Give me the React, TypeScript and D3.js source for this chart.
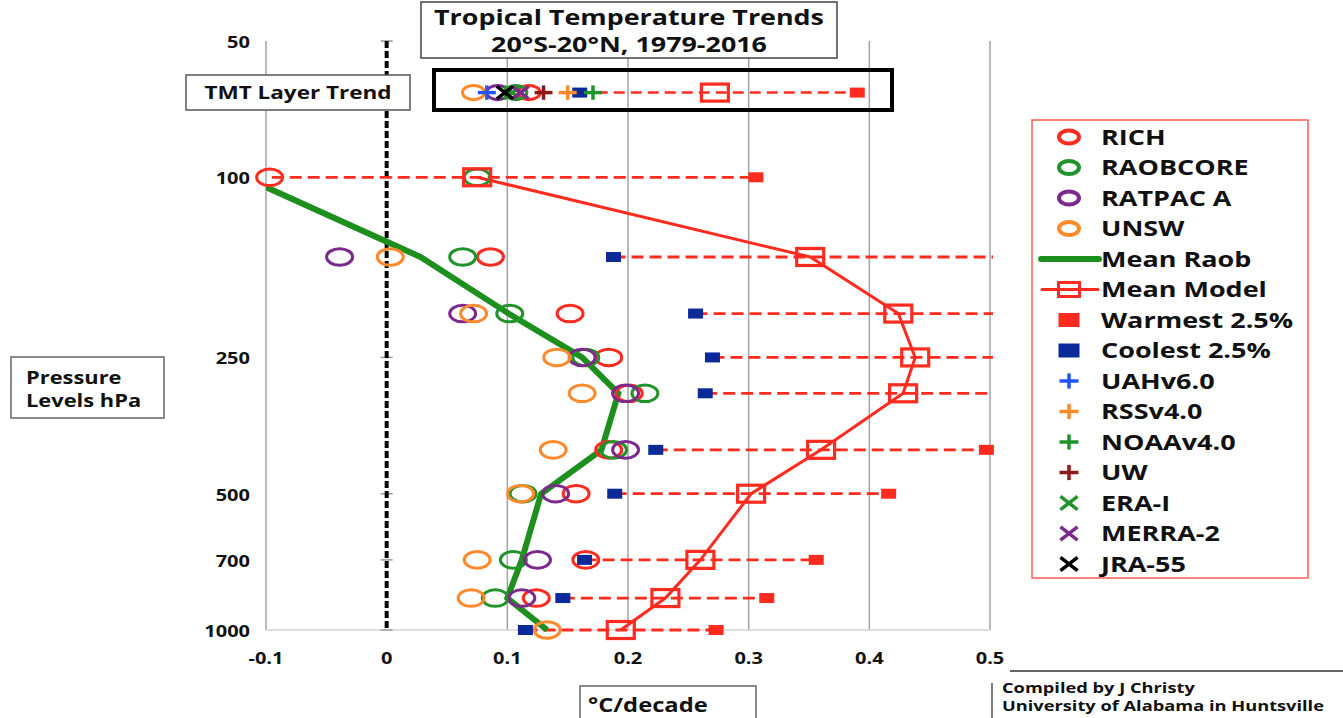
import React from 'react';
import * as d3 from 'd3';

// pressure levels (hPa) and trends (°C/decade)
const levels = [100, 150, 200, 250, 300, 400, 500, 700, 850, 1000];
const rich = [-0.097, 0.086, 0.152, 0.184, 0.201, 0.184, 0.157, 0.165, 0.124, null];
const raobcore = [0.075, 0.063, 0.102, 0.165, 0.214, 0.188, 0.113, 0.105, 0.09, null];
const ratpacA = [null, -0.039, 0.063, 0.162, 0.198, 0.198, 0.14, 0.125, 0.112, null];
const unsw = [null, 0.003, 0.072, 0.141, 0.162, 0.138, 0.111, 0.075, 0.07, 0.133];
const meanRaob = [-0.118, 0.028, 0.101, 0.162, 0.192, 0.178, 0.128, 0.112, 0.1, 0.133];
const meanModel = [0.075, 0.351, 0.424, 0.438, 0.428, 0.36, 0.302, 0.26, 0.231, 0.194];
const warmest = [0.306, 0.56, 0.58, 0.57, 0.55, 0.497, 0.416, 0.356, 0.315, 0.273];
const coolest = [-0.14, 0.188, 0.256, 0.27, 0.264, 0.223, 0.189, 0.164, 0.146, 0.115];

// TMT layer row
const tmtNames = ['RICH', 'RAOBCORE', 'RATPAC A', 'UNSW', 'UAHv6.0', 'RSSv4.0', 'NOAAv4.0', 'UW', 'ERA-I', 'MERRA-2', 'JRA-55'];
const tmtTrends = [0.118, 0.107, 0.092, 0.072, 0.083, 0.15, 0.171, 0.13, 0.104, 0.111, 0.098];
const tmtCoolest = 0.16;
const tmtMeanModel = 0.272;
const tmtWarmest = 0.39;
const tmtRowPressure = 65;

const xTicks = [-0.1, 0, 0.1, 0.2, 0.3, 0.4, 0.5];
const yTicks = [50, 100, 250, 500, 700, 1000];

const legendNames = ['RICH', 'RAOBCORE', 'RATPAC A', 'UNSW', 'Mean Raob', 'Mean Model', 'Warmest 2.5%', 'Coolest 2.5%', 'UAHv6.0', 'RSSv4.0', 'NOAAv4.0', 'UW', 'ERA-I', 'MERRA-2', 'JRA-55'];

const RED = '#ff2b1f';
const GREEN = '#22922a';
const LINEGREEN = '#1d8f1d';
const PURPLE = '#7b2a8c';
const ORANGE = '#ff8a2c';
const NAVY = '#0b2a9a';
const BLUE = '#2255ff';
const DARKRED = '#8b1a1a';
const FONT = "'Open Sans', 'Noto Sans', sans-serif";
const SX = 1.25;

const symbols: Record<string, [string, string]> = {
  'RICH': ['circle', RED],
  'RAOBCORE': ['circle', GREEN],
  'RATPAC A': ['circle', PURPLE],
  'UNSW': ['circle', ORANGE],
  'Mean Raob': ['line', LINEGREEN],
  'Mean Model': ['lineSquare', RED],
  'Warmest 2.5%': ['fill', RED],
  'Coolest 2.5%': ['fill', NAVY],
  'UAHv6.0': ['plus', BLUE],
  'RSSv4.0': ['plus', ORANGE],
  'NOAAv4.0': ['plus', GREEN],
  'UW': ['plus', DARKRED],
  'ERA-I': ['cross', GREEN],
  'MERRA-2': ['cross', PURPLE],
  'JRA-55': ['cross', '#000'],
};

const Label = ({ x, y, size, anchor = 'start', children }: any) => (
  <text transform={`translate(${x},${y}) scale(${SX},1)`} fontSize={size} fontWeight={700}
    fontFamily={FONT} textAnchor={anchor} fill="#111">{children}</text>
);

const Marker = ({ type, color, x, y, k = 1 }: any) => {
  if (type === 'circle') return <ellipse cx={x} cy={y} rx={13 * k} ry={8.3 * k} fill="none" stroke={color} strokeWidth={3} />;
  if (type === 'square') return <rect x={x - 13.5} y={y - 8.5} width={27} height={17} fill="none" stroke={color} strokeWidth={3.2} />;
  if (type === 'fill') return <rect x={x - 7.5} y={y - 5} width={15} height={10} fill={color} />;
  if (type === 'plus') return (
    <g stroke={color} strokeWidth={3.5}>
      <line x1={x - 10 * k} x2={x + 10 * k} y1={y} y2={y} />
      <line x1={x} x2={x} y1={y - 8 * k} y2={y + 8 * k} />
    </g>
  );
  if (type === 'cross') return (
    <g stroke={color} strokeWidth={3.5}>
      <line x1={x - 9 * k} x2={x + 9 * k} y1={y - 7 * k} y2={y + 7 * k} />
      <line x1={x - 9 * k} x2={x + 9 * k} y1={y + 7 * k} y2={y - 7 * k} />
    </g>
  );
  return null;
};

export default function App() {
  const x = d3.scaleLinear().domain([-0.1, 0.5]).range([266, 990]);
  const y = d3.scaleLog().domain([50, 1000]).range([41, 630]);
  const [x0, x1] = x.range();
  const [yTop, yBot] = y.range();
  const visible = (v: number | null) => v != null && v >= -0.11 && v <= 0.505;

  const line = d3.line<[number, number]>().x(d => x(d[0])).y(d => y(d[1]));
  const raobPath = line(levels.map((p, i) => [meanRaob[i], p]));
  const modelPath = line(levels.map((p, i) => [meanModel[i], p]));

  const circleSeries: [any[], string][] = [
    [rich, RED], [raobcore, GREEN], [ratpacA, PURPLE], [unsw, ORANGE],
  ];

  const tmtY = y(tmtRowPressure);
  const tmtOrder = [0, 1, 2, 3];
  const tmtAfter = [4, 5, 6, 7, 8, 9, 10];

  const legX = 1032, legY = 120, legW = 276, legH = 458;
  const legStep = 30.5, legFirst = 137, symX = 1069, txtX = 1101;

  return (
    <svg width={1343} height={718} style={{ position: 'absolute', left: 0, top: 0, background: '#fff' }}>
      <defs>
        <clipPath id="plot"><rect x={x0} y={0} width={x1 - x0 + 3} height={yBot + 5} /></clipPath>
      </defs>

      {/* grid */}
      {xTicks.filter(t => t !== 0).map(t => (
        <line key={t} x1={x(t)} x2={x(t)} y1={yTop} y2={yBot} stroke="#a3a3a3" strokeWidth={1.5} />
      ))}
      <line x1={x0} x2={x1} y1={yBot} y2={yBot} stroke="#d4d4d4" strokeWidth={1.5} />

      {/* zero axis */}
      {yTicks.map(t => (
        <line key={t} x1={x(0) - 6} x2={x(0) + 6} y1={y(t)} y2={y(t)} stroke="#999" strokeWidth={1.5} />
      ))}
      <line x1={x(0)} x2={x(0)} y1={yTop} y2={yBot} stroke="#000" strokeWidth={4} strokeDasharray="7,3" />

      {/* tick labels */}
      {yTicks.map(t => <Label key={t} x={250} y={y(t) + 7} size={16} anchor="end">{t}</Label>)}
      {xTicks.map(t => <Label key={t} x={x(t)} y={664} size={16} anchor="middle">{t === 0 ? '0' : t.toFixed(1)}</Label>)}

      {/* title box */}
      <rect x={421} y={2} width={416} height={56} fill="#fff" stroke="#444" strokeWidth={1.5} />
      <Label x={629} y={25} size={21.5} anchor="middle">Tropical Temperature Trends</Label>
      <Label x={629} y={51.5} size={21.5} anchor="middle">20°S-20°N, 1979-2016</Label>

      {/* TMT row */}
      <rect x={186} y={75} width={224} height={35} fill="#fff" stroke="#555" strokeWidth={1.5} />
      <Label x={298} y={99} size={18} anchor="middle">TMT Layer Trend</Label>
      <rect x={434} y={70} width={458} height={40} fill="none" stroke="#000" strokeWidth={4} />
      <line x1={x(tmtCoolest)} x2={x(tmtWarmest)} y1={tmtY} y2={tmtY} stroke={RED} strokeWidth={2.5} strokeDasharray="11,6" />
      {tmtOrder.map(i => <Marker key={tmtNames[i]} type="circle" color={symbols[tmtNames[i]][1]} x={x(tmtTrends[i])} y={tmtY} k={0.85} />)}
      <Marker type="square" color={RED} x={x(tmtMeanModel)} y={tmtY} />
      <Marker type="fill" color={RED} x={x(tmtWarmest)} y={tmtY} />
      <Marker type="fill" color={NAVY} x={x(tmtCoolest)} y={tmtY} />
      {tmtAfter.map(i => <Marker key={tmtNames[i]} type={symbols[tmtNames[i]][0]} color={symbols[tmtNames[i]][1]} x={x(tmtTrends[i])} y={tmtY} k={0.9} />)}

      {/* profiles */}
      <g clipPath="url(#plot)">
        {levels.map((p, i) => (
          <line key={p} x1={x(coolest[i])} x2={x(warmest[i])} y1={y(p)} y2={y(p)} stroke={RED} strokeWidth={2.8} strokeDasharray="12,6" />
        ))}
        <path d={modelPath || ''} fill="none" stroke={RED} strokeWidth={3} />
        <path d={raobPath || ''} fill="none" stroke={LINEGREEN} strokeWidth={6} />
      </g>
      {circleSeries.map(([vals, color], s) => (
        <g key={s}>
          {vals.map((v, i) => visible(v) ? <Marker key={i} type="circle" color={color} x={x(v)} y={y(levels[i])} /> : null)}
        </g>
      ))}
      {levels.map((p, i) => <Marker key={'m' + p} type="square" color={RED} x={x(meanModel[i])} y={y(p)} />)}
      {levels.map((p, i) => visible(warmest[i]) ? <Marker key={'w' + p} type="fill" color={RED} x={x(warmest[i])} y={y(p)} /> : null)}
      {levels.map((p, i) => visible(coolest[i]) ? <Marker key={'c' + p} type="fill" color={NAVY} x={x(coolest[i])} y={y(p)} /> : null)}

      {/* legend */}
      <rect x={legX} y={legY} width={legW} height={legH} fill="#fff" stroke="#ff5a50" strokeWidth={1.5} />
      {legendNames.map((name, i) => {
        const cy = legFirst + i * legStep;
        const [type, color] = symbols[name];
        let sym: any = null;
        if (type === 'circle') sym = <ellipse cx={symX} cy={cy} rx={10} ry={6.5} fill="none" stroke={color} strokeWidth={4} />;
        else if (type === 'line') sym = <line x1={1041} x2={1099} y1={cy} y2={cy} stroke={color} strokeWidth={6} strokeLinecap="round" />;
        else if (type === 'lineSquare') sym = (
          <g>
            <line x1={1042} x2={1098} y1={cy} y2={cy} stroke={color} strokeWidth={3} strokeLinecap="round" />
            <rect x={symX - 10.5} y={cy - 7} width={21} height={14} fill="none" stroke={color} strokeWidth={3} />
          </g>
        );
        else if (type === 'fill') sym = <rect x={symX - 10.5} y={cy - 7} width={21} height={14} fill={color} />;
        else sym = <Marker type={type} color={color} x={symX} y={cy} k={0.95} />;
        return (
          <g key={name}>
            {sym}
            <Label x={txtX} y={cy + 7.5} size={21.6}>{name}</Label>
          </g>
        );
      })}

      {/* axis title boxes */}
      <rect x={11} y={357} width={153} height={61} fill="#fff" stroke="#666" strokeWidth={1.5} />
      <Label x={26} y={384} size={17.5}>Pressure</Label>
      <Label x={26} y={407} size={17.5}>Levels hPa</Label>

      <rect x={580} y={686} width={176} height={40} fill="#fff" stroke="#666" strokeWidth={1.5} />
      <Label x={588} y={712} size={19}>°C/decade</Label>

      <line x1={1010} x2={1343} y1={671} y2={671} stroke="#333" strokeWidth={1.5} />
      <line x1={992} x2={992} y1={683} y2={718} stroke="#555" strokeWidth={1.5} />
      <Label x={1002} y={693} size={14.6}>Compiled by J Christy</Label>
      <Label x={1002} y={711} size={14.6}>University of Alabama in Huntsville</Label>
    </svg>
  );
}
